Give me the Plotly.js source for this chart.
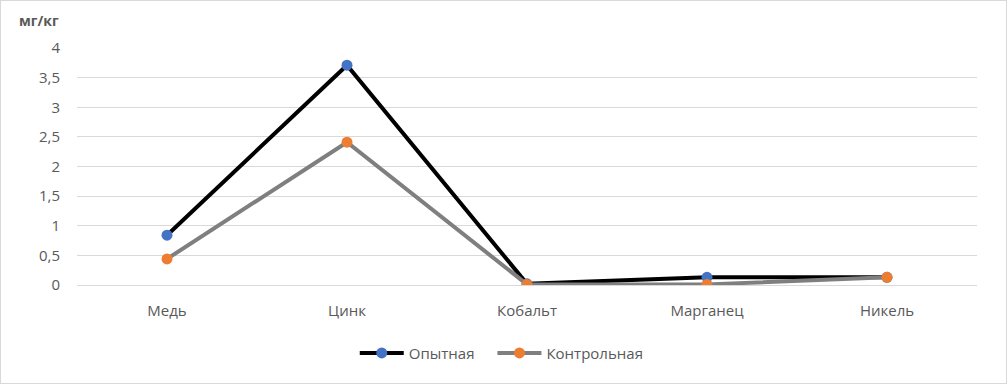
<!DOCTYPE html>
<html><head><meta charset="utf-8">
<script src="https://cdn.plot.ly/plotly-3.0.1.min.js"></script>
<style>
html,body{margin:0;padding:0;background:#fff;}
#chart{width:1005px;height:382px;border:1px solid #d9d9d9;}
</style>
</head><body>
<div id="chart"></div>
<script>
const categories = ["Медь", "Цинк", "Кобальт", "Марганец", "Никель"];
const seriesNames = ["Опытная", "Контрольная"];
const experimental = [0.84, 3.71, 0.02, 0.13, 0.13];
const control = [0.44, 2.41, 0.01, 0.01, 0.13];
const yTickVals = [0, 0.5, 1, 1.5, 2, 2.5, 3, 3.5, 4];
const yTickText = ["0", "0,5", "1", "1,5", "2", "2,5", "3", "3,5", "4"];
const yUnit = "мг/кг";

const font = "Open Sans, Noto Sans, sans-serif";
const traces = [
  {x: categories, y: experimental, name: seriesNames[0], type: "scatter", mode: "lines+markers",
   line: {color: "#000000", width: 4}, marker: {color: "#4472C4", size: 11}, legend: "legend"},
  {x: categories, y: control, name: seriesNames[1], type: "scatter", mode: "lines+markers",
   line: {color: "#7f7f7f", width: 4}, marker: {color: "#ED7D31", size: 11}, legend: "legend2"}
];
const legendBase = {orientation: "h", xanchor: "left", xref: "container",
  y: 0.078, yanchor: "middle", yref: "container", itemwidth: 44,
  font: {family: font, size: 15, color: "#595959"}, bgcolor: "rgba(0,0,0,0)"};
const layout = {
  width: 1005, height: 382,
  margin: {l: 76, r: 29, t: 47, b: 98},
  paper_bgcolor: "#fff", plot_bgcolor: "#fff",
  font: {family: font, size: 15, color: "#595959"},
  showlegend: true,
  legend: Object.assign({}, legendBase, {x: 0.352}),
  legend2: Object.assign({}, legendBase, {x: 0.489}),
  xaxis: {type: "category", range: [-0.5, 4.5], showgrid: false, zeroline: false,
          showline: false, ticks: "", ticklabelstandoff: 15, fixedrange: true},
  yaxis: {range: [0, 4], tickvals: yTickVals, ticktext: yTickText, showgrid: true,
          gridcolor: "#d9d9d9", gridwidth: 1, zeroline: true, zerolinecolor: "#d9d9d9",
          zerolinewidth: 1, showline: false, ticks: "", ticklabelstandoff: 16, fixedrange: true},
  annotations: [{text: "<b>" + yUnit + "</b>", xref: "paper", yref: "paper", x: -0.018, y: 1.115,
                 xanchor: "right", yanchor: "middle", showarrow: false,
                 font: {family: font, size: 14, color: "#595959"}}]
};
Plotly.newPlot("chart", traces, layout, {displayModeBar: false, staticPlot: true});
</script>
</body></html>
